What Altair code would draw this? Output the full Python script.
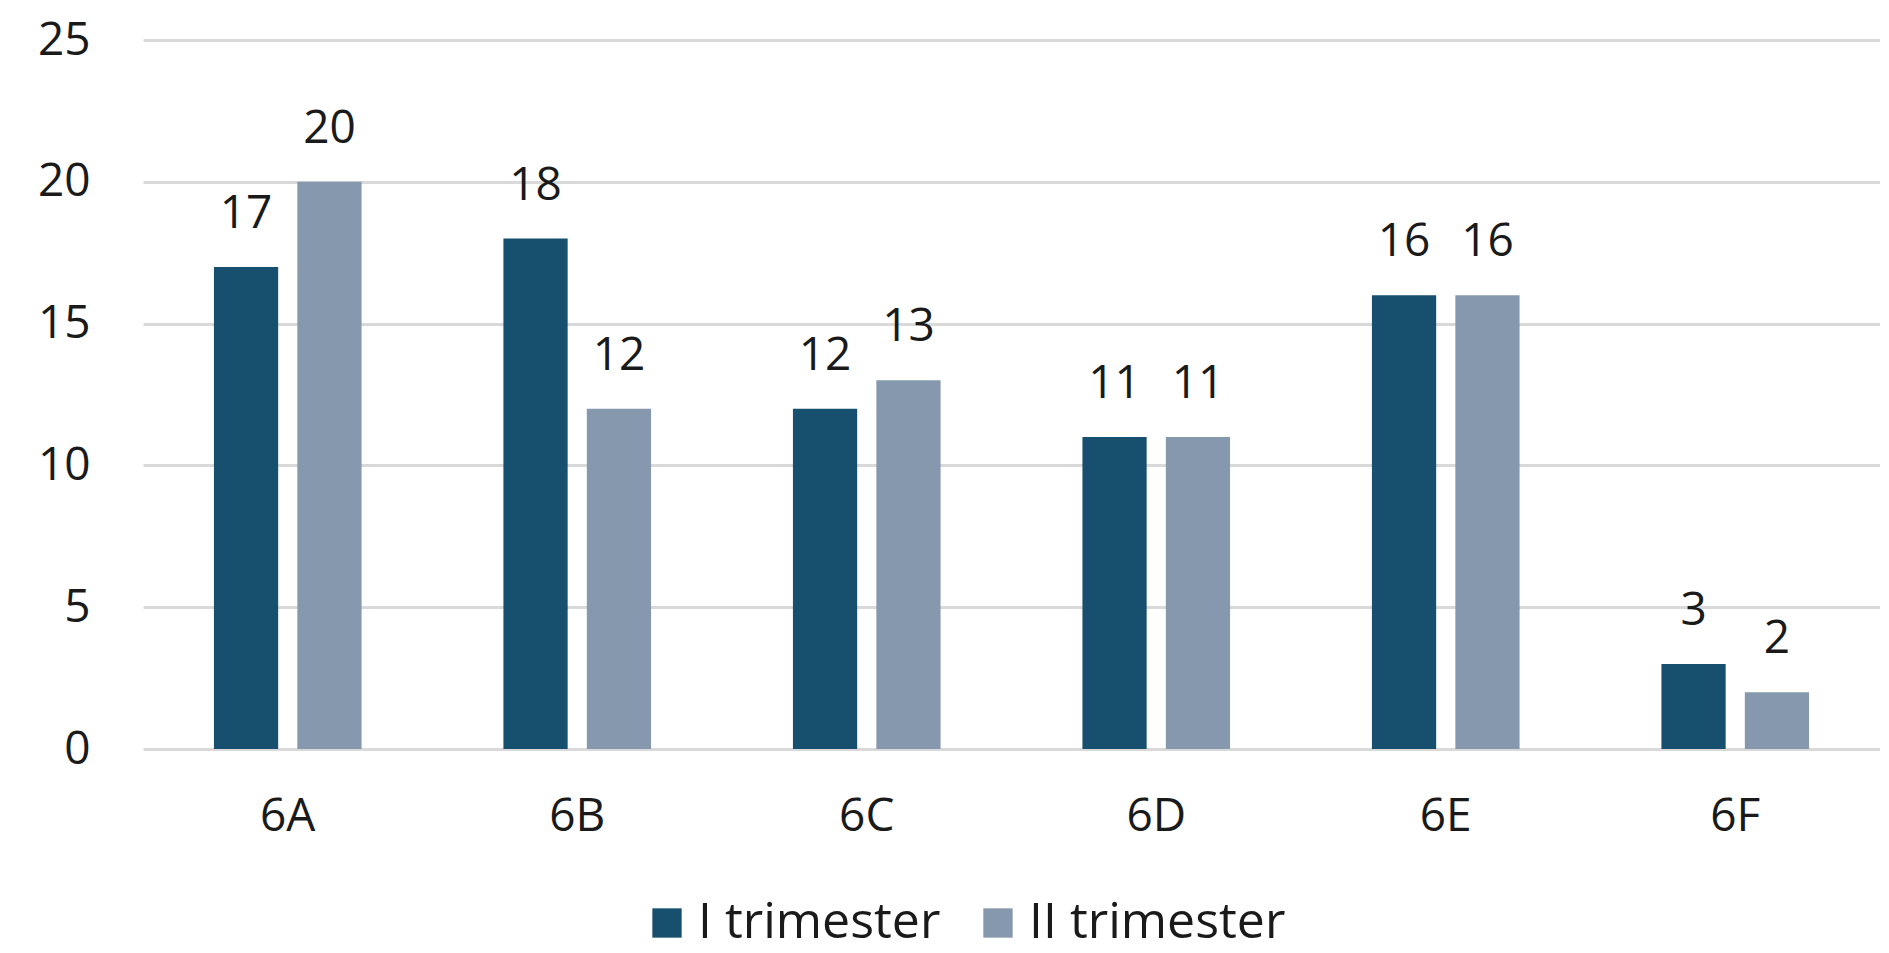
import altair as alt
import pandas as pd

classes = ["6A", "6B", "6C", "6D", "6E", "6F"]
series = ["I trimester", "II trimester"]
first_trimester = [17, 18, 12, 11, 16, 3]
second_trimester = [20, 12, 13, 11, 16, 2]
colors = ["#17506F", "#8698AE"]

rows = []
for c, v1, v2 in zip(classes, first_trimester, second_trimester):
    rows.append({"cls": c, "series": series[0], "value": v1})
    rows.append({"cls": c, "series": series[1], "value": v2})
df = pd.DataFrame(rows)

FONT = "Open Sans"

x_enc = alt.X("cls:N", sort=classes, title=None,
              scale=alt.Scale(paddingInner=0.49, paddingOuter=0.245),
              axis=alt.Axis(labelAngle=0, labelFontSize=46, labelFont=FONT,
                            labelColor="#1a1a1a", ticks=False, domain=False,
                            labelBaseline="middle", labelPadding=67, grid=False))
xoff = alt.XOffset("series:N", sort=series,
                   scale=alt.Scale(paddingInner=0.23, paddingOuter=0))
y_enc = alt.Y("value:Q", title=None,
              scale=alt.Scale(domain=[0, 25], nice=False),
              axis=alt.Axis(values=[0, 5, 10, 15, 20, 25], labelFontSize=46,
                            labelFont=FONT, labelColor="#1a1a1a", ticks=False,
                            domain=False, labelPadding=53, gridColor="#D9D9D9",
                            gridWidth=3, labelBaseline="middle"))

bars = alt.Chart(df).mark_bar().encode(
    x=x_enc, xOffset=xoff, y=y_enc,
    color=alt.Color("series:N", sort=series,
                    scale=alt.Scale(domain=series, range=colors),
                    legend=alt.Legend(title=None, orient="none", direction="horizontal",
                                      legendX=499, legendY=858,
                                      symbolType="square", symbolSize=860,
                                      symbolStrokeWidth=0, labelFontSize=50,
                                      labelFont=FONT, labelColor="#1a1a1a",
                                      labelOffset=6, columnPadding=32,
                                      labelLimit=400)),
)

labels = alt.Chart(df).mark_text(
    fontSize=46, font=FONT, color="#1a1a1a", baseline="alphabetic", dy=-39
).encode(
    x=alt.X("cls:N", sort=classes), xOffset=alt.XOffset("series:N", sort=series),
    y=alt.Y("value:Q"), text=alt.Text("value:Q"),
)

chart = alt.layer(bars, labels).properties(
    width=1737, height=709,
    background="white",
    autosize=alt.AutoSizeParams(type="none"),
    padding={"left": 135, "top": 32, "right": 0, "bottom": 196},
).configure_view(stroke=None, strokeWidth=0)

chart.save("out.html", embed_options={"renderer": "svg", "actions": False})
